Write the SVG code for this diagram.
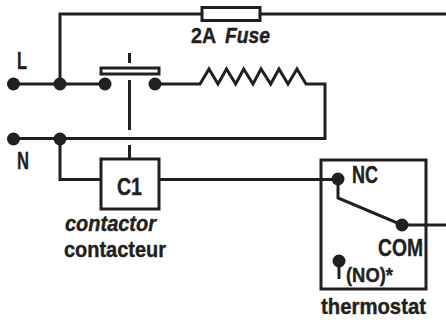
<svg xmlns="http://www.w3.org/2000/svg" width="446" height="320" viewBox="0 0 446 320">
<style>
.w{fill:none;stroke:#231f20;stroke-width:3}
.b{fill:#fff;stroke:#231f20;stroke-width:3}
.d{fill:#231f20}
text{font-family:"Liberation Sans",Arial,sans-serif;font-weight:bold;fill:#231f20;stroke:#231f20;stroke-width:.4;font-size:24px}
.i{font-style:italic}
.m{font-size:22px}
.s{font-size:21px}
</style>
<g id="connectors">
<path class="w" d="M60 84V14H201M260 14H446"/>
<path class="w" d="M13 84H105M155 84H200L209 69L218 84L226.500 69L235.700 84L243.700 69L253 84L261 69L270.700 84L279 69L288 84L297 69L306 84H325V138.500H13"/>
<path class="w" d="M60 138.500V179.500H101M159 179.500H338"/>
<path class="w" d="M129.500 53V63M129.500 80V130M129.500 145V159"/>
<path class="w" d="M338 179V198L402 225H446"/>
<path class="w" d="M339 261V279"/>
</g>
<g id="fuse"><rect class="b" x="202" y="7.500" width="58" height="13"/><text class="m" x="191" y="43" textLength="25" lengthAdjust="spacingAndGlyphs">2A</text><text class="m i" x="225" y="43" textLength="45" lengthAdjust="spacingAndGlyphs">Fuse</text></g>
<g id="terminal-L"><circle class="d" cx="13.500" cy="84" r="6.500"/><circle class="d" cx="60" cy="84" r="6.500"/><text x="17" y="69" textLength="10" lengthAdjust="spacingAndGlyphs">L</text></g>
<g id="terminal-N"><circle class="d" cx="13.500" cy="139" r="6.500"/><circle class="d" cx="60" cy="139" r="6.500"/><text x="17" y="169" textLength="12" lengthAdjust="spacingAndGlyphs">N</text></g>
<g id="contact"><rect class="b" x="101" y="68" width="58" height="6"/><circle class="d" cx="105" cy="84" r="6.500"/><circle class="d" cx="155" cy="84" r="6.500"/></g>
<g id="contactor"><rect class="b" x="101" y="159" width="58" height="50"/><text x="117" y="195" textLength="25" lengthAdjust="spacingAndGlyphs">C1</text><text class="m i" x="65" y="231" textLength="91" lengthAdjust="spacingAndGlyphs">contactor</text><text class="m" x="64" y="257" textLength="102" lengthAdjust="spacingAndGlyphs">contacteur</text></g>
<g id="thermostat"><rect class="w" x="321" y="160" width="105" height="129"/>
<circle class="d" cx="338" cy="179" r="6.500"/><circle class="d" cx="402" cy="225" r="6.500"/><circle class="d" cx="339" cy="261" r="6.500"/>
<text x="352" y="183" textLength="26" lengthAdjust="spacingAndGlyphs">NC</text><text x="378" y="256" textLength="45" lengthAdjust="spacingAndGlyphs">COM</text><text class="s" x="346" y="282" textLength="47" lengthAdjust="spacingAndGlyphs">(NO)*</text><text class="m" x="321" y="314" textLength="105" lengthAdjust="spacingAndGlyphs">thermostat</text></g>
</svg>
